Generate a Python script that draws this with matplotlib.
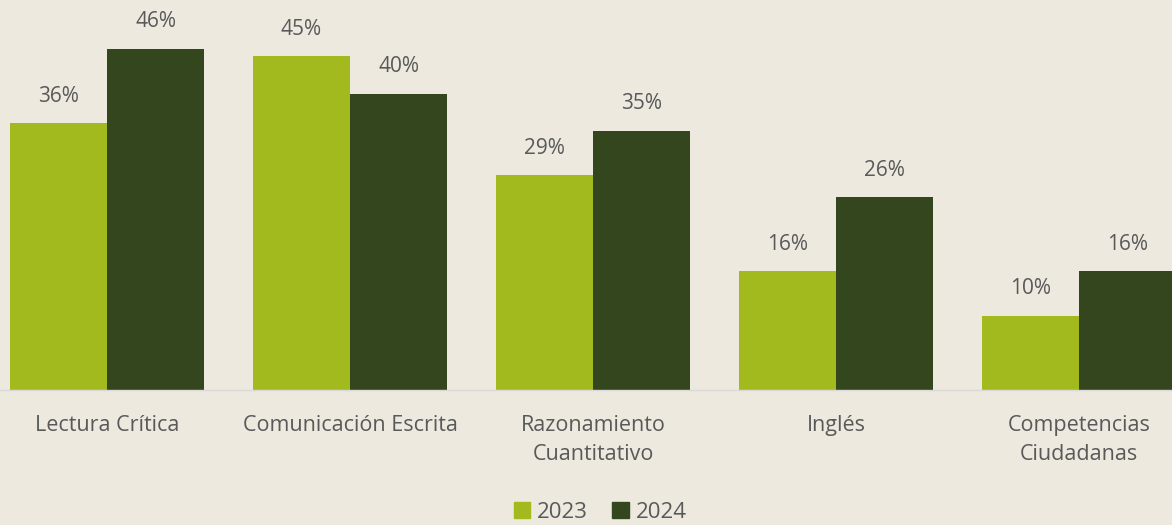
import numpy as np
import matplotlib
matplotlib.use("Agg")
from matplotlib import pyplot as plt
from matplotlib.patches import Patch

categories = ["Lectura Crítica", "Comunicación Escrita", "Razonamiento\nCuantitativo",
              "Inglés", "Competencias\nCiudadanas"]
vals_2023 = [36, 45, 29, 16, 10]
vals_2024 = [46, 40, 35, 26, 16]
years = ["2023", "2024"]

bg = "#EDE9DF"
c_light = "#A3BA1E"
c_dark = "#34461E"
txt = "#595959"

plt.rcParams['font.family'] = ["Open Sans", "DejaVu Sans"]

fig = plt.figure(figsize=(11.72, 5.25), dpi=100)
fig.patch.set_facecolor(bg)
ax = fig.add_axes([0, 0.257, 1, 0.706])
ax.set_facecolor(bg)

x = np.arange(len(categories))
w = 0.4
b1 = ax.bar(x - w/2, vals_2023, w, color=c_light)
b2 = ax.bar(x + w/2, vals_2024, w, color=c_dark)

for bars, vals in ((b1, vals_2023), (b2, vals_2024)):
    for b, v in zip(bars, vals):
        ax.annotate(f"{v}%", (b.get_x() + b.get_width()/2, v), xytext=(0, 19.5),
                    textcoords="offset points", ha="center", va="center",
                    fontsize=15, color=txt)

ax.set_xlim(-107/243, (1172-107)/243)
ax.set_ylim(0, 50)
ax.set_yticks([])
ax.set_xticks(x)
ax.set_xticklabels(categories, fontsize=15.5, color=txt, linespacing=1.5)
ax.tick_params(axis="x", length=0, pad=18)
for s in ["top", "left", "right"]:
    ax.spines[s].set_visible(False)
ax.spines["bottom"].set_color("#D9D9D9")
ax.spines["bottom"].set_linewidth(1)

handles = [Patch(color=c_light), Patch(color=c_dark)]
fig.legend(handles, years, loc="center", bbox_to_anchor=(0.512, 1 - 512/525), ncol=2,
           frameon=False, fontsize=16, labelcolor=txt, handlelength=0.75,
           handleheight=0.75, handletextpad=0.3, columnspacing=1.1,
           borderaxespad=0, borderpad=0)

fig.savefig("out.png", dpi=100, facecolor=bg)
